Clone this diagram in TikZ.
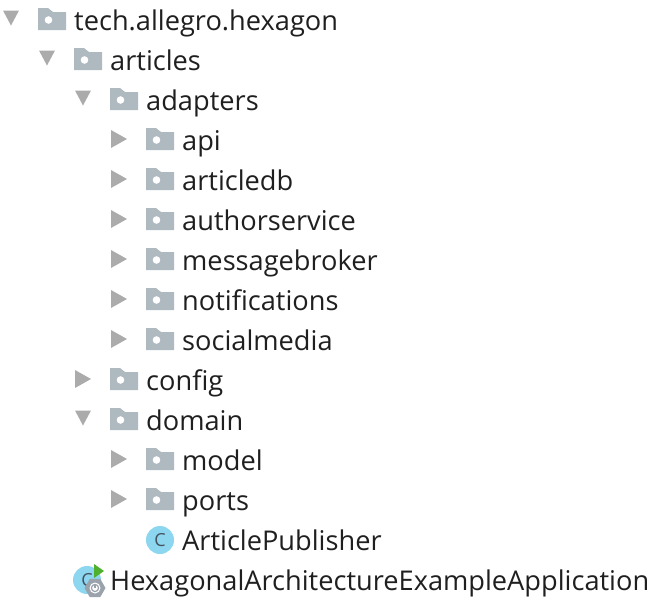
\documentclass[tikz,border=0pt]{standalone}
\usepackage{fontspec}
\setmainfont{Open Sans}
\usetikzlibrary{positioning,shapes.geometric}
\definecolor{foldergray}{HTML}{AEB9C0}
\definecolor{arrowgray}{HTML}{ABABAB}
\definecolor{classblue}{HTML}{8CD6F0}
\definecolor{classletter}{HTML}{44525E}
\definecolor{rungreen}{HTML}{4FB02E}
\definecolor{gearsgray}{HTML}{9AA3AB}
\definecolor{labelblack}{HTML}{1F1F1F}
\tikzset{
	label/.style={inner sep=0pt,anchor=base west,text=labelblack,font=\fontsize{27.2}{27.2}\selectfont},
	classicon/.style={circle,fill=classblue,minimum size=28pt,inner sep=0pt,text=classletter,font=\fontsize{18}{18}\selectfont},
	pics/folder/.style={code={
		\fill[foldergray] (-14,-12) -- (-4,-12) -- (1,-8) -- (14,-8) -- (14,10) -- (-14,10) -- cycle;
		\fill[white] (-3.5,0) circle (3.8);
	}},
	pics/opened/.style={code={
		\fill[arrowgray] (-8,-7.5) -- (8,-7.5) -- (0,7.5) -- cycle;
	}},
	pics/closed/.style={code={
		\fill[arrowgray] (-8,-8) -- (8,1) -- (-8,10) -- cycle;
	}}
}
\begin{document}
\begin{tikzpicture}[x=1pt,y=-1pt]
	\useasboundingbox (0,0) rectangle (662,608);
	% packages and folders
	\foreach \rowname/\depth/\row/\arrowkind/\txt in {
		hexagon/0/0/opened/tech.allegro.hexagon,
		articles/1/1/opened/articles,
		adapters/2/2/opened/adapters,
		api/3/3/closed/api,
		articledb/3/4/closed/articledb,
		authorservice/3/5/closed/authorservice,
		messagebroker/3/6/closed/messagebroker,
		notifications/3/7/closed/notifications,
		socialmedia/3/8/closed/socialmedia,
		config/2/9/closed/config,
		domain/2/10/opened/domain,
		model/3/11/closed/model,
		ports/3/12/closed/ports}
	{
		\pic at ({52+36*\depth},{20+40*\row}) {folder};
		\pic at ({11+36*\depth},{18+40*\row}) {\arrowkind};
		\node[label] (\rowname) at ({74+36*\depth},{30+40*\row}) {\txt};
	}
	% classes
	\node[classicon] (publishericon) at (160,540) {C};
	\node[label] (publisher) at (182,550) {ArticlePublisher};
	\node[classicon] (appicon) at (87,580) {C};
	\node[label] (app) at (110,590) {HexagonalArchitectureExampleApplication};
	\fill[rungreen] (94,564) -- (104,571) -- (94,578) -- cycle;
	\node[regular polygon,regular polygon sides=6,fill=gearsgray,minimum size=21pt,inner sep=0pt] (appgear) at (95,588) {};
	\fill[white] (95,588) circle (5.5);
	\draw[gearsgray,line width=1.2pt] (95,588) circle (3.6);
	\draw[gearsgray,line width=1.2pt] (95,583.5) -- (95,588);
\end{tikzpicture}
\end{document}
